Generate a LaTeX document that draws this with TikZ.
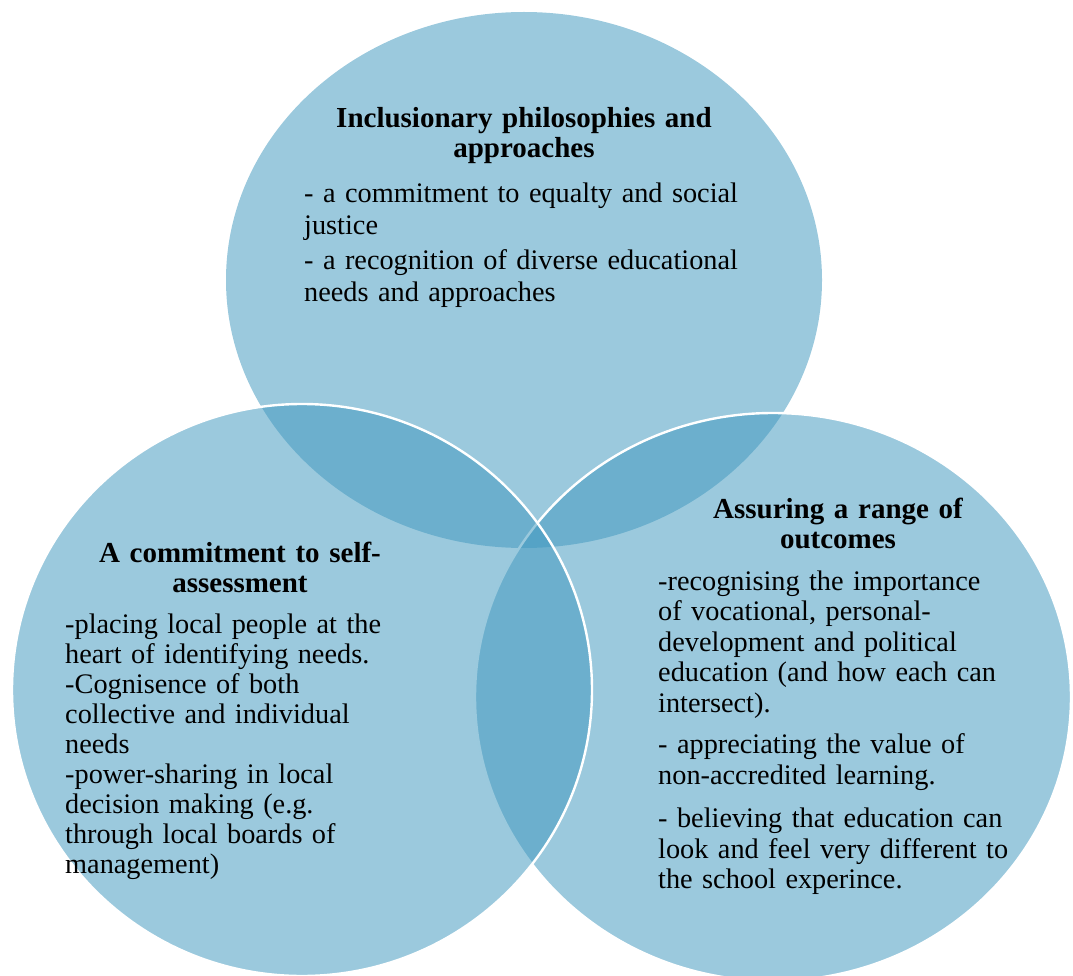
\documentclass[tikz,border=0pt]{standalone}
\usepackage{fontspec}
\setmainfont{Liberation Serif}
\definecolor{venn}{RGB}{66,153,191}
\tikzset{
  vennset/.style={fill=venn, fill opacity=0.53},
  vennline/.style={draw=white, line width=2.4pt},
  bodytext/.style={anchor=base west, inner sep=0pt, text width=460pt, align=left, font=\fontsize{28.3}{30.5}\selectfont},
  titletext/.style={anchor=base, inner sep=0pt, text width=460pt, align=center, font=\fontsize{29}{30}\selectfont\bfseries},
}
\begin{document}
\begin{tikzpicture}[x=1pt,y=-1pt]
\useasboundingbox (0,0) rectangle (1073,976);
\clip (0,0) rectangle (1073,976);
% circles
\fill[vennset] (524,280) ellipse [x radius=298pt, y radius=268pt];
\fill[vennset] (773,697) ellipse [x radius=298pt, y radius=284pt];
\draw[vennline] (773,697) ellipse [x radius=298pt, y radius=284pt];
\fill[vennset] (302,690) ellipse [x radius=290pt, y radius=286pt];
\draw[vennline] (302,690) ellipse [x radius=290pt, y radius=286pt];
% top
\node[titletext] (toptitle) at (524,128) {Inclusionary philosophies and\\approaches};
\node[bodytext, font=\fontsize{28.3}{31.5}\selectfont] (topbody) at (304,203) {- a commitment to equalty and social\\justice\\[4pt]- a recognition of diverse educational\\needs and approaches};
% left
\node[titletext] (lefttitle) at (240,562) {A commitment to self-\\assessment};
\node[bodytext, font=\fontsize{28.3}{30}\selectfont] (leftbody) at (65,633) {-placing local people at the\\heart of identifying needs.\\-Cognisence of both\\collective and individual\\needs\\-power-sharing in local\\decision making (e.g.\\through local boards of\\management)};
% right
\node[titletext] (righttitle) at (838,518) {Assuring a range of\\outcomes};
\node[bodytext] (rightbody) at (658,590) {-recognising the importance\\of vocational, personal-\\development and political\\education (and how each can\\intersect).\\[11pt]- appreciating the value of\\non-accredited learning.\\[13pt]- believing that education can\\look and feel very different to\\the school experince.};
\end{tikzpicture}
\end{document}
